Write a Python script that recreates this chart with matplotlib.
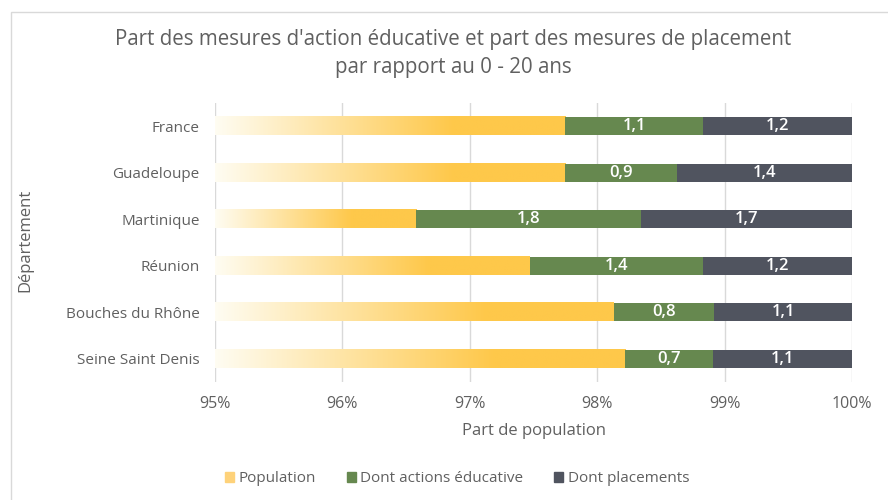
import numpy as np
import matplotlib.pyplot as plt
from matplotlib.patches import Patch, Rectangle
from matplotlib.colors import to_rgb

plt.rcParams['font.family'] = ['Open Sans', 'DejaVu Sans']

departements = ['France', 'Guadeloupe', 'Martinique', 'Réunion',
                'Bouches du Rhône', 'Seine Saint Denis']
population = [97.75, 97.75, 96.58, 97.47, 98.13, 98.22]
actions_educ = [1.08, 0.88, 1.76, 1.36, 0.79, 0.69]
placements = [1.17, 1.37, 1.66, 1.17, 1.08, 1.09]
xticks = [95, 96, 97, 98, 99, 100]

txt = '#606060'
jaune = '#FEC84A'
vert = '#66884F'
gris = '#50545F'

fig = plt.figure(figsize=(8.88, 5), dpi=100)
ax = fig.add_axes([215 / 888, 1 - 382 / 500, (852 - 215) / 888, (382 - 103) / 500])

y = np.arange(len(departements))
h = 0.39
xmin = 95

# gradient blanc -> jaune, plein à ~68% de la barre
g = np.linspace(0, 1, 256)
g = np.clip(g / 0.68, 0, 1)
c0 = np.array([1.0, 0.99, 0.95])
c1 = np.array(to_rgb(jaune))
grad = (c0[None, :] * (1 - g[:, None]) + c1[None, :] * g[:, None])[None, :, :]

for yi, p in zip(y, population):
    ax.imshow(grad, extent=[xmin, p, yi + h / 2, yi - h / 2], aspect='auto',
              interpolation='bilinear', zorder=2)

left = np.array(population)
ax.barh(y, actions_educ, left=left, height=h, color=vert, zorder=2)
left2 = left + np.array(actions_educ)
ax.barh(y, placements, left=left2, height=h, color=gris, zorder=2)

for yi, l, v in zip(y, left, actions_educ):
    ax.text(l + v / 2, yi, f"{v:.1f}".replace('.', ','), ha='center', va='center',
            color='white', fontsize=12, fontweight='semibold', zorder=3)
for yi, l, v in zip(y, left2, placements):
    ax.text(l + v / 2, yi, f"{v:.1f}".replace('.', ','), ha='center', va='center',
            color='white', fontsize=12, fontweight='semibold', zorder=3)

ax.set_xlim(95, 100)
ax.set_ylim(len(departements) - 0.5, -0.5)
ax.set_xticks(xticks)
ax.set_xticklabels([f"{t}%" for t in xticks])
ax.set_yticks(y)
ax.set_yticklabels(departements)
ax.tick_params(axis='both', length=0, labelcolor=txt)
ax.tick_params(axis='x', pad=10, labelsize=11.5)
ax.tick_params(axis='y', pad=11, labelsize=11)
for s in ax.spines.values():
    s.set_visible(False)
ax.grid(axis='x', color='#D9D9D9', linewidth=1, zorder=0)
ax.set_axisbelow(True)

ax.set_xlabel('Part de population', fontsize=12, color=txt, labelpad=8)
fig.text(25 / 888, 1 - 240 / 500, 'Département', rotation=90, ha='center',
         va='center', fontsize=12, color=txt)

fig.text(453 / 888, 1 - 40 / 500, "Part des mesures d'action éducative et part des mesures de placement",
         ha='center', va='center', fontsize=14.8, color=txt)
fig.text(453 / 888, 1 - 68 / 500, "par rapport au 0 - 20 ans",
         ha='center', va='center', fontsize=14.8, color=txt)

handles = [Patch(color='#FED27A', label='Population'),
           Patch(color=vert, label='Dont actions éducative'),
           Patch(color=gris, label='Dont placements')]
fig.legend(handles=handles, loc='center', bbox_to_anchor=(457 / 888, 1 - 479 / 500),
           ncol=3, frameon=False, fontsize=11, labelcolor=txt,
           handlelength=0.6, handleheight=0.6, handletextpad=0.3, columnspacing=2.0)

fig.add_artist(Rectangle((11 / 888, -0.1), 1.2, 1.1 - 12 / 500,
                         transform=fig.transFigure, fill=False,
                         edgecolor='#D9D9D9', linewidth=1))

fig.savefig('out.png', dpi=100)
